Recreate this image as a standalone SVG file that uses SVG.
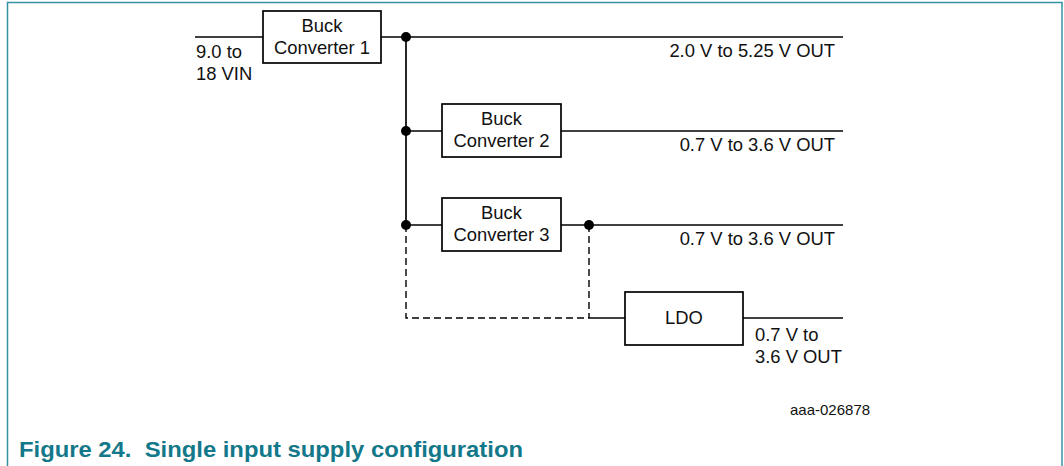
<svg xmlns="http://www.w3.org/2000/svg" width="1064" height="466" viewBox="0 0 1064 466">
<style>
.box{fill:#fff;stroke:#000;stroke-width:1.7}
.w{fill:none;stroke:#000;stroke-width:1.7}
.d{fill:none;stroke:#000;stroke-width:1.4;stroke-dasharray:7 4}
.dot{fill:#000}
.t{font-family:"Liberation Sans",Arial,sans-serif;font-size:18.4px;fill:#111}
.c{text-anchor:middle}
.r{text-anchor:end}
</style>
<rect width="1064" height="466" fill="#fff"/>
<path d="M7.5,466 V2.5 H1062 V466" fill="none" stroke="#3592a3" stroke-width="1.5"/>
<g id="connectors">
<path class="w" d="M195,37 H263"/>
<path class="w" d="M381,37 H843"/>
<path class="w" d="M406,37 V225"/>
<path class="w" d="M406,131 H442"/>
<path class="w" d="M561,131 H843"/>
<path class="w" d="M406,225 H442"/>
<path class="w" d="M561,225 H843"/>
<path class="d" d="M406,225 V318 H589"/>
<path class="d" d="M589,225 V318"/>
<path class="w" d="M589,318 H625"/>
<path class="w" d="M743,318 H843"/>
<circle class="dot" cx="406" cy="37" r="5"/>
<circle class="dot" cx="406" cy="131" r="5"/>
<circle class="dot" cx="406" cy="225" r="5"/>
<circle class="dot" cx="589" cy="225" r="5"/>
</g>
<g id="buck1">
<rect class="box" x="263" y="11" width="118" height="52"/>
<text class="t c" x="322" y="31.5">Buck</text>
<text class="t c" x="322" y="53.5">Converter 1</text>
</g>
<g id="buck2">
<rect class="box" x="442" y="104" width="119" height="53"/>
<text class="t c" x="501.5" y="125">Buck</text>
<text class="t c" x="501.5" y="147">Converter 2</text>
</g>
<g id="buck3">
<rect class="box" x="442" y="198" width="119" height="53"/>
<text class="t c" x="501.5" y="218.5">Buck</text>
<text class="t c" x="501.5" y="240.5">Converter 3</text>
</g>
<g id="ldo">
<rect class="box" x="625" y="292" width="118" height="53"/>
<text class="t c" x="684" y="323.5">LDO</text>
</g>
<g id="labels">
<text class="t" x="196" y="58">9.0 to</text>
<text class="t" x="196" y="80">18 VIN</text>
<text class="t r" x="835" y="56.5">2.0 V to 5.25 V OUT</text>
<text class="t r" x="835" y="151">0.7 V to 3.6 V OUT</text>
<text class="t r" x="835" y="245">0.7 V to 3.6 V OUT</text>
<text class="t" x="755" y="341">0.7 V to</text>
<text class="t" x="755" y="363">3.6 V OUT</text>
<text x="790" y="415" style="font-family:'Liberation Sans',Arial,sans-serif;font-size:15px;fill:#111">aaa-026878</text>
</g>
<text x="19" y="457" textLength="504" lengthAdjust="spacingAndGlyphs" style="font-family:'Liberation Sans',Arial,sans-serif;font-size:22.5px;font-weight:bold;fill:#137889;white-space:pre">Figure 24.  Single input supply configuration</text>
</svg>
